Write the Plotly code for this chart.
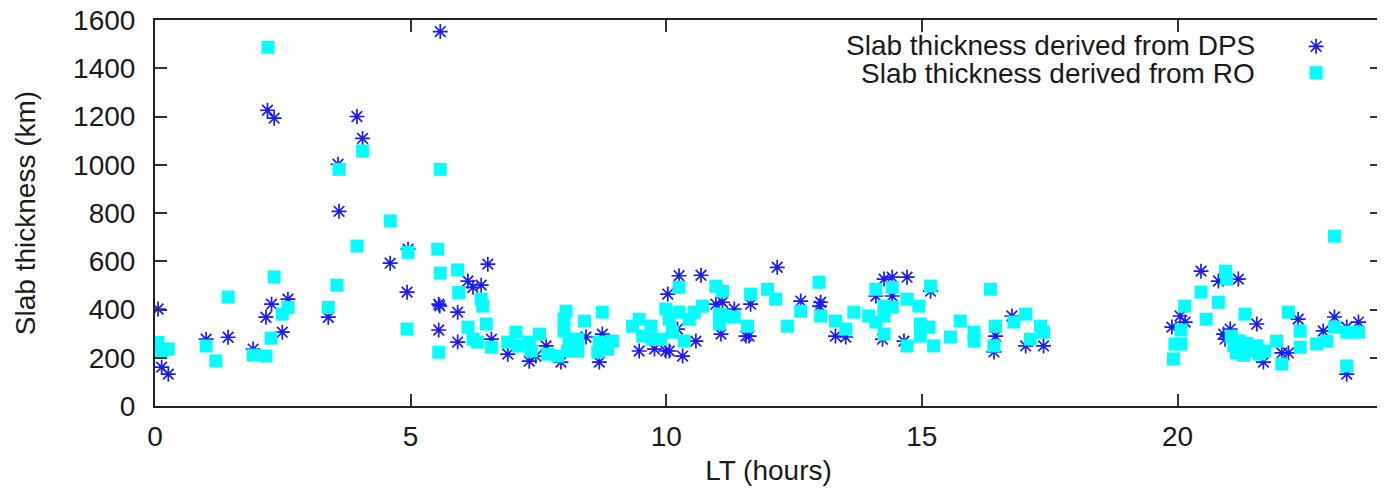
import plotly.graph_objects as go

# Slab thickness derived from DPS (LT hours, km)
dps_lt = [0.06, 0.13, 0.26, 1.0, 1.43, 1.92, 2.2, 2.33, 2.17, 2.28, 2.49, 2.6, 3.39, 3.58, 3.6,
          3.95, 4.06, 4.6, 4.95, 4.93, 5.58, 5.55, 5.57, 5.55, 5.92, 5.92, 6.51, 6.12, 6.22, 6.38,
          6.58, 6.9, 7.32, 7.45, 7.65, 7.94, 8.43, 8.69, 8.75, 9.47, 9.77, 9.99, 10.06, 10.03,
          10.25, 10.32, 10.22, 10.58, 10.68, 10.97, 11.07, 11.33, 11.1, 11.65, 11.62, 11.56, 12.17,
          12.63, 13.02, 13.0, 13.31, 13.51, 14.26, 14.42, 14.71, 14.1, 14.42, 14.23, 15.17, 16.44,
          16.41, 16.76, 17.38, 17.03, 14.65, 19.89, 20.05, 20.15, 20.46, 20.8, 21.19, 20.9, 21.03,
          21.55, 21.68, 22.04, 22.17, 22.36, 22.85, 23.07, 23.54, 23.31, 23.31, 20.93]
dps_km = [402, 161, 132, 277, 285, 236, 1226, 1193, 368, 422, 306, 443, 368, 1002, 807,
          1200, 1109, 592, 650, 472, 1552, 422, 415, 315, 389, 265, 588, 518, 492, 501,
          277, 215, 186, 207, 249, 182, 286, 182, 298, 228, 236, 228, 228, 464,
          540, 207, 319, 269, 542, 422, 298, 402, 430, 422, 290, 290, 575,
          435, 430, 414, 290, 286, 526, 534, 534, 456, 456, 277, 476, 290,
          224, 373, 249, 249, 269, 327, 373, 348, 559, 518, 526, 298, 319,
          340, 182, 220, 220, 360, 311, 369, 348, 132, 327, 277]

# Slab thickness derived from RO (LT hours, km)
ro_lt = [0.06, 0.13, 0.26, 1.0, 1.19, 1.43, 1.92, 2.17, 2.21, 2.33, 2.27, 2.49, 2.6, 3.39, 3.56,
         3.6, 3.95, 4.06, 4.6, 4.95, 4.93, 5.58, 5.53, 5.58, 5.55, 5.92, 5.94, 6.38, 6.41, 6.48,
         6.12, 6.22, 6.31, 6.58, 6.9, 7.06, 7.1, 7.32, 7.36, 7.52, 7.68, 7.88, 8.04, 8.0, 8.0,
         8.1, 8.07, 8.27, 8.4, 8.27, 8.75, 8.69, 8.66, 8.95, 8.85, 9.34, 9.47, 9.54, 9.7, 9.73,
         9.89, 9.99, 10.06, 10.12, 10.25, 10.25, 10.35, 10.45, 10.55, 10.71, 10.97, 11.1, 11.04,
         11.04, 11.33, 11.1, 11.59, 11.65, 11.98, 12.14, 12.37, 12.63, 12.99, 13.02, 13.31, 13.51,
         13.67, 13.96, 14.1, 14.1, 14.26, 14.26, 14.26, 14.42, 14.42, 14.71, 14.71, 14.94, 14.97,
         14.97, 15.17, 15.14, 15.23, 15.56, 15.75, 16.02, 16.02, 16.34, 16.44, 16.41, 16.8, 17.03,
         17.12, 17.32, 17.38, 19.92, 19.95, 20.07, 20.07, 20.14, 20.46, 20.56, 20.8, 20.94, 20.96,
         21.32, 21.05, 21.1, 21.15, 21.2, 21.25, 21.3, 21.35, 21.45, 21.55, 21.6, 21.71, 21.94,
         22.04, 22.17, 22.4, 22.4, 22.72, 22.92, 23.07, 23.07, 23.31, 23.31, 23.54]
ro_km = [264, 228, 236, 249, 187, 452, 211, 207, 1487, 535, 281, 381, 409, 409, 501,
         981, 663, 1057, 767, 637, 319, 981, 650, 551, 223, 564, 470, 443, 414, 340,
         327, 277, 265, 244, 265, 306, 249, 265, 228, 298, 215, 207, 393, 360, 311,
         277, 228, 228, 352, 277, 389, 265, 224, 269, 236, 331, 360, 290, 331, 277,
         277, 402, 360, 306, 492, 389, 269, 360, 389, 414, 497, 476, 381,
         340, 369, 373, 331, 464, 484, 443, 331, 393, 513, 373, 352, 319,
         389, 373, 484, 348, 414, 373, 298, 492, 410, 443, 249, 414, 340,
         290, 497, 327, 249, 286, 352, 306, 269, 484, 331, 249, 348, 381,
         277, 331, 306, 195, 257, 257, 315, 414, 472, 360, 430, 559, 526,
         381, 290, 250, 220, 270, 240, 210, 260, 230, 250, 215, 228, 269,
         174, 389, 311, 244, 257, 269, 704, 327, 306, 166, 306]

series_names = ["Slab thickness derived from DPS", "Slab thickness derived from RO"]
x_ticks = [0, 5, 10, 15, 20]
y_ticks = [0, 200, 400, 600, 800, 1000, 1200, 1400, 1600]

FONT = "Liberation Sans, Arial, sans-serif"
TXT = "#1a1a1a"
FS = 28

fig = go.Figure()
fig.add_trace(go.Scatter(
    x=dps_lt, y=dps_km, mode="markers", name=" ",
    hovertext=series_names[0],
    marker=dict(symbol="asterisk-open", size=12.5, color="#1a1aff",
                line=dict(color="#1a1aff", width=1.7)),
))
fig.add_trace(go.Scatter(
    x=ro_lt, y=ro_km, mode="markers", name="  ",
    hovertext=series_names[1],
    marker=dict(symbol="square", size=13, color="#00ffff", line=dict(width=0)),
))

axis_common = dict(
    showgrid=False, zeroline=False, showline=True, linecolor="#222", linewidth=2,
    mirror="ticks", ticks="inside", ticklen=12, tickwidth=1.5, tickcolor="#333",
    tickfont=dict(family=FONT, size=FS, color=TXT), automargin=False,
    ticklabeloverflow="allow",
)
fig.update_xaxes(range=[0, 24], tickvals=x_ticks, **axis_common, ticklabelstandoff=4,
                 title=dict(text="LT (hours)", font=dict(family=FONT, size=FS, color=TXT), standoff=10))
fig.update_yaxes(range=[0, 1600], tickvals=y_ticks, **axis_common, ticklabelstandoff=12,
                 title=dict(text="Slab thickness (km)", font=dict(family=FONT, size=FS, color=TXT), standoff=29))

for i, nm in enumerate(series_names):
    fig.add_annotation(xref="paper", yref="paper", x=0.898, y=[0.935, 0.862][i],
                       xanchor="right", yanchor="middle", showarrow=False, text=nm,
                       font=dict(family=FONT, size=FS, color=TXT))

# page body has an 8px margin, so the figure is shifted by 8px
fig.update_layout(
    width=1377, height=480,
    margin=dict(l=147, r=3, t=12, b=82),
    plot_bgcolor="white", paper_bgcolor="white",
    showlegend=True,
    legend=dict(x=0.930, y=0.979, xanchor="left", yanchor="top", bgcolor="rgba(0,0,0,0)",
                font=dict(size=18), itemwidth=30, tracegroupgap=0),
)

fig.write_html("out.html")
